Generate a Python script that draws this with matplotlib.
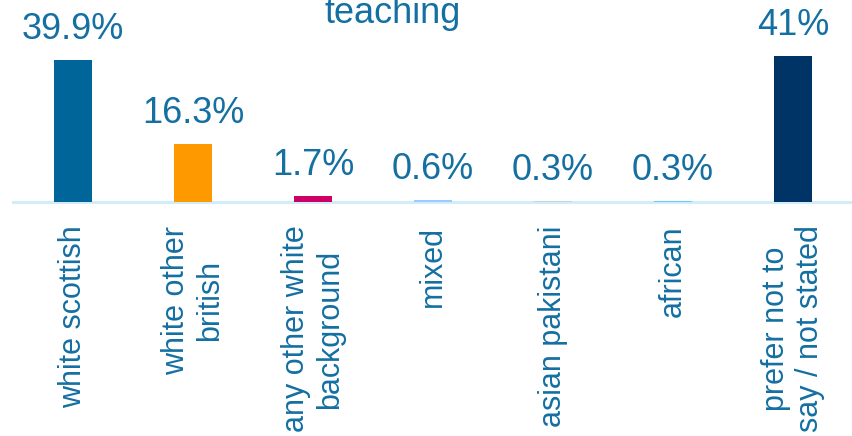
import matplotlib
matplotlib.use("Agg")
import matplotlib.pyplot as plt

# data
categories = ["white scottish", "white other\nbritish", "any other white\nbackground",
              "mixed", "asian pakistani", "african", "prefer not to\nsay / not stated"]
values = [39.9, 16.3, 1.7, 0.6, 0.3, 0.3, 41.0]
value_labels = ["39.9%", "16.3%", "1.7%", "0.6%", "0.3%", "0.3%", "41%"]
bar_colors = ["#006699", "#ff9900", "#cc0066", "#99ccff", "#c4d4dc", "#66ccff", "#003366"]
title = "teaching"

text_color = "#146fa2"
base_color = "#d2ecfa"

plt.rcParams['font.family'] = ['Liberation Sans', 'DejaVu Sans']

W, H = 852, 436
fig = plt.figure(figsize=(W / 100, H / 100), dpi=100)

# axes: baseline at y=202 px, runs from x=13 px to the right edge
px_per_unit = 3.56
base_y = 202
ax = fig.add_axes([13 / W, (H - base_y) / H, 840 / W, base_y / H])

x = list(range(len(categories)))
ax.bar(x, values, width=0.317, color=bar_colors, zorder=2)

for xi, v, lab in zip(x, values, value_labels):
    ax.annotate(lab, (xi, v), xytext=(0, 9.5), textcoords='offset points',
                ha='center', va='bottom', fontsize=26, color=text_color)

ax.set_xlim(-0.5, len(categories) - 0.5)
ax.set_ylim(0, base_y / px_per_unit)

for s in ['top', 'right', 'left']:
    ax.spines[s].set_visible(False)
ax.spines['bottom'].set_color(base_color)
ax.spines['bottom'].set_linewidth(2.2)
ax.spines['bottom'].set_zorder(1)

ax.set_yticks([])
ax.set_xticks(x)
ax.set_xticklabels(categories, rotation=90, fontsize=22, color=text_color,
                   ha='center', va='top', multialignment='center')
ax.tick_params(axis='x', length=0, pad=17)

fig.text(393 / W, 1 - 23 / H, title, ha='center', va='baseline',
         fontsize=26, color=text_color)

fig.savefig("out.png", dpi=100)
